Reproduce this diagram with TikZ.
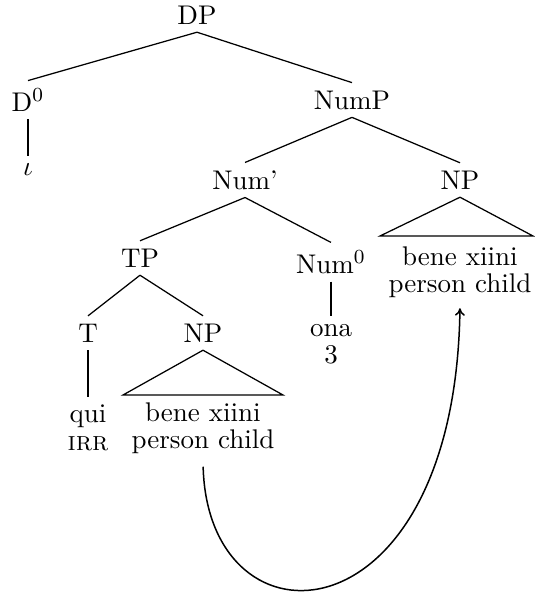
\documentclass[tikz,border=0pt]{standalone}
\usetikzlibrary{arrows.meta}
\begin{document}
\begin{tikzpicture}[x=0.4pt,y=-0.4pt,
  lab/.style={inner sep=0pt, outer sep=3.2pt, font=\fontsize{10.8}{11}\selectfont, align=center},
  edge/.style={line width=0.5pt},
  move/.style={line width=0.6pt, -{To[length=3pt,width=4pt]}}]
\useasboundingbox (0,0) rectangle (534,592);
% nodes
\node[lab] (dp) at (197,15) {DP};
\node[lab] (d0) at (28,100) {D$^0$};
\node[lab] (iota) at (28,170) {$\iota$};
\node[lab] (nump) at (352,100) {NumP};
\node[lab] (numbar) at (245,180) {Num'};
\node[lab] (npr) at (460,180) {NP};
\node[lab] (nprt) at (460,272) {bene xiini\\person child};
\node[lab] (tp) at (140,258) {TP};
\node[lab] (num0) at (331,262) {Num$^0$};
\node[lab] (ona) at (331,344) {ona\\3};
\node[lab] (t) at (88,333) {T};
\node[lab] (npl) at (203,333) {NP};
\node[lab] (qui) at (88,428) {qui\\\textsc{irr}};
\node[lab] (nplt) at (203,428) {bene xiini\\person child};
% triangle bases
\coordinate (rbl) at (380,236);
\coordinate (rbr) at (533,236);
\coordinate (lbl) at (123,395);
\coordinate (lbr) at (283,395);
% edges
\draw[edge] (dp.south) -- (d0.north);
\draw[edge] (dp.south) -- (nump.north);
\draw[edge] (d0.south) -- (iota.north);
\draw[edge] (nump.south) -- (numbar.north);
\draw[edge] (nump.south) -- (npr.north);
\draw[edge] (npr.south) -- (rbl) -- (rbr) -- cycle;
\draw[edge] (numbar.south) -- (tp.north);
\draw[edge] (numbar.south) -- (num0.north);
\draw[edge] (num0.south) -- (ona.north);
\draw[edge] (tp.south) -- (t.north);
\draw[edge] (tp.south) -- (npl.north);
\draw[edge] (t.south) -- (qui.north);
\draw[edge] (npl.south) -- (lbl) -- (lbr) -- cycle;
% movement arrow
\draw[move, shorten <=2pt, shorten >=1pt] (nplt.south) .. controls +(5,195) and +(-5,340) .. (nprt.south);
\end{tikzpicture}
\end{document}
